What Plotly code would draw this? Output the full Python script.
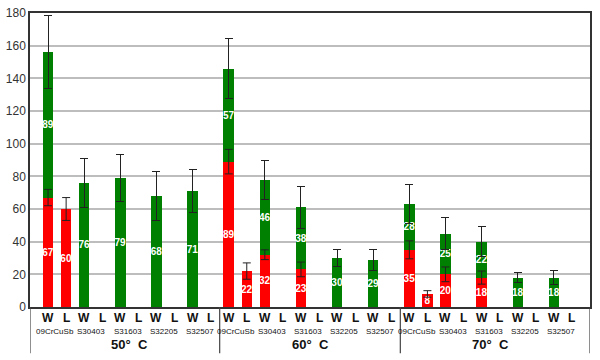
import plotly.graph_objects as go

temps = ["50° C", "60° C", "70° C"]
alloys = ["09CrCuSb", "S30403", "S31603", "S32205", "S32507"]
kinds = ["W", "L"]

# slot order: temp -> alloy -> W, L  (30 slots)
red_vals = [67, 60, None, None, None, None, None, None, None, None,
            89, 22, 32, None, 23, None, None, None, None, None,
            35, 8, 20, None, 18, None, None, None, None, None]
red_err = [5, 7, 0, 0, 0, 0, 0, 0, 0, 0,
           7.5, 5, 3, 0, 4.5, 0, 0, 0, 0, 0,
           5.5, 2, 4.5, 0, 4, 0, 0, 0, 0, 0]
green_vals = [89, None, 76, None, 79, None, 68, None, 71, None,
              57, None, 46, None, 38, None, 30, None, 29, None,
              28, None, 25, None, 22, None, 18, None, 18, None]
green_err = [22.5, 0, 15, 0, 14.5, 0, 15, 0, 13, 0,
             18.5, 0, 12, 0, 13, 0, 5, 0, 6.5, 0,
             12, 0, 10, 0, 9, 0, 3, 0, 4.5, 0]

n = len(temps) * len(alloys) * len(kinds)
xs = list(range(n))

def txt(vals):
    return ["" if v is None else str(v) for v in vals]

err_style = dict(type="data", visible=True, color="#222222", thickness=1, width=4)
bar_font = dict(color="white", size=10, family="Arial", weight="bold")

fig = go.Figure()
fig.add_trace(go.Bar(
    x=xs, y=red_vals, width=0.58, marker=dict(color="#ff0000", line=dict(width=0)),
    text=txt(red_vals), textposition="inside", insidetextanchor="middle", textangle=0,
    textfont=bar_font, showlegend=False, hoverinfo="skip"))
fig.add_trace(go.Bar(
    x=xs, y=green_vals, width=0.58, marker=dict(color="#008000", line=dict(width=0)),
    text=txt(green_vals), textposition="inside", insidetextanchor="middle", textangle=0,
    textfont=bar_font, error_y=dict(array=green_err, **err_style), showlegend=False,
    hoverinfo="skip"))
# red-segment error bars drawn on top of the stacked bars
fig.add_trace(go.Scatter(
    x=xs, y=red_vals, mode="markers", marker=dict(size=1, opacity=0),
    error_y=dict(array=red_err, **err_style), showlegend=False, hoverinfo="skip"))

annotations = []
shapes = []
i = 0
for ti, t in enumerate(temps):
    for ai, a in enumerate(alloys):
        for k in kinds:
            annotations.append(dict(x=i, y=-0.037, xref="x", yref="paper", text="<b>" + k + "</b>",
                                    showarrow=False, yanchor="middle",
                                    font=dict(family="Arial", size=12, color="#111111")))
            i += 1
        annotations.append(dict(x=i - 1.6, y=-0.082, xref="x", yref="paper", text=a,
                                showarrow=False, yanchor="middle",
                                font=dict(family="Arial", size=8, color="#111111")))
    center = ti * 10 + 4.5
    annotations.append(dict(x=center, y=-0.128, xref="x", yref="paper",
                            text="<b>" + t.replace(" ", "&nbsp;&nbsp;") + "</b>",
                            showarrow=False, yanchor="middle",
                            font=dict(family="Arial", size=13, color="#111111")))

for sx in [-1, 9.5, 19.5, 30]:
    shapes.append(dict(type="line", xref="x", yref="paper", x0=sx, x1=sx, y0=0, y1=-0.157,
                       line=dict(color="#444444", width=1.2)))

fig.update_layout(
    width=600, height=360,
    margin=dict(l=30, r=10, t=13, b=53),
    barmode="stack",
    paper_bgcolor="white", plot_bgcolor="white",
    uniformtext=dict(minsize=10, mode="show"),
    annotations=annotations, shapes=shapes,
    xaxis=dict(range=[-1, 30], showticklabels=False, showgrid=False, zeroline=False, automargin=False,
               showline=True, linecolor="#333333", linewidth=1.5, mirror=True, ticks=""),
    yaxis=dict(range=[0, 180], dtick=20, showgrid=True, gridcolor="#bdbdbd", gridwidth=1.5,
               zeroline=False, showline=True, linecolor="#333333", linewidth=1.5, mirror=True,
               automargin=False, ticks="", tickfont=dict(family="Arial", size=12, color="#333333")),
)

fig.write_html("out.html", post_script="document.body.style.margin='0';",
               config={"displayModeBar": False})
